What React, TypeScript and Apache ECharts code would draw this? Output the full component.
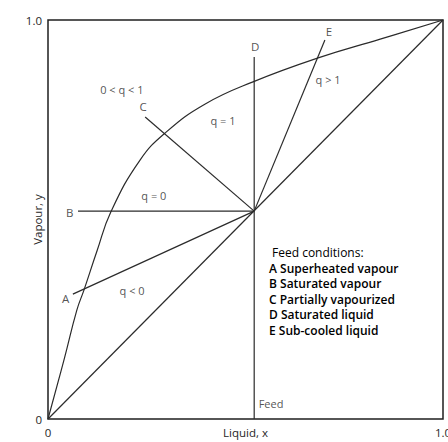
import React, { useEffect, useRef } from "react";
import * as echarts from "echarts";

// Equilibrium curve (x, y)
const curveX = [0, 0.041, 0.073, 0.091, 0.124, 0.159, 0.233, 0.299, 0.397, 0.519, 0.684, 0.841, 1];
const curveY = [0, 0.15, 0.273, 0.323, 0.421, 0.519, 0.649, 0.719, 0.789, 0.845, 0.905, 0.952, 1];

// Feed point on the diagonal
const feed = [0.522, 0.521];

// q-line start points (labels A–E)
const qLineLetters = ["A", "B", "C", "D", "E"];
const qLineStartX = [0.063, 0.076, 0.246, 0.522, 0.701];
const qLineStartY = [0.313, 0.521, 0.757, 0.907, 0.95];

// Region labels
const regionText = ["0<q<1", "q=1", "q=0", "q<0", "q>1", "Feed"];
const regionX = [0.187, 0.443, 0.268, 0.213, 0.709, 0.532];
const regionY = [0.827, 0.749, 0.561, 0.323, 0.85, 0.038];

const feedHeading = "Feed conditions:";
const feedItems = [
  "A Superheated vapour",
  "B Saturated vapour",
  "C Partially vapourized",
  "D Saturated liquid",
  "E Sub-cooled liquid",
];

const xTicks = ["0", "1.0"];
const yTicks = ["0", "1.0"];

const FONT = "'Open Sans', 'Noto Sans', sans-serif";
const LINE = "#2b2b2b";
const TXT = "#262626";

export default function App() {
  const ref = useRef<HTMLDivElement>(null);
  useEffect(() => {
    document.body.style.margin = "0";
    const chart = echarts.init(ref.current!, null, { renderer: "svg" });
    const lineStyle = { color: LINE, width: 1.2 };
    const letterPos: any[] = [
      { position: "left", distance: 3, offset: [0, 4] },
      { position: "left", distance: 4, offset: [0, 1] },
      { position: "top", distance: 4, offset: [-2, 0] },
      { position: "top", distance: 4, offset: [1, 0] },
      { position: "top", distance: 2, offset: [4, 0] },
    ];
    const series: any[] = [
      {
        type: "line",
        data: [[0, 0], [1, 1]],
        symbol: "none",
        lineStyle,
        silent: true,
      },
      {
        type: "line",
        data: curveX.map((x, i) => [x, curveY[i]]),
        symbol: "none",
        smooth: 0.45,
        lineStyle,
        silent: true,
      },
      {
        type: "line",
        data: [[feed[0], 0], [feed[0], feed[1]]],
        symbol: "none",
        lineStyle,
        silent: true,
      },
    ];
    qLineLetters.forEach((l, i) => {
      series.push({
        type: "line",
        data: [[qLineStartX[i], qLineStartY[i]], feed],
        symbol: "none",
        lineStyle,
        silent: true,
      });
    });
    series.push({
      type: "scatter",
      symbolSize: 1,
      itemStyle: { color: "rgba(0,0,0,0)" },
      silent: true,
      data: qLineLetters.map((l, i) => ({
        value: [qLineStartX[i], qLineStartY[i]],
        label: {
          show: true,
          formatter: l,
          color: TXT,
          fontSize: 11.5,
          fontFamily: FONT,
          ...letterPos[i],
        },
      })),
    });
    series.push({
      type: "scatter",
      symbolSize: 1,
      itemStyle: { color: "rgba(0,0,0,0)" },
      silent: true,
      data: regionText.map((t, i) => ({
        value: [regionX[i], regionY[i]],
        label: {
          show: true,
          formatter: i === 5 ? t : t.split("").join(" "),
          position: i === 5 ? "right" : "inside",
          distance: 0,
          color: TXT,
          fontSize: 11,
          fontFamily: FONT,
        },
      })),
    });

    const block =
      "{h|" + feedHeading + "}\n" + feedItems.map((s) => "{i|" + s + "}").join("\n");

    chart.setOption({
      animation: false,
      backgroundColor: "#ffffff",
      grid: {
        left: 48,
        top: 20,
        right: 5,
        bottom: 23,
        outerBoundsMode: "none",
        containLabel: false,
        show: true,
        borderColor: "#1f1f1f",
        borderWidth: 1.5,
        backgroundColor: "transparent",
      },
      xAxis: {
        type: "value",
        min: 0,
        max: 1,
        interval: 1,
        name: "Liquid, x",
        nameLocation: "middle",
        nameGap: 7,
        nameMoveOverlap: false,
        nameTextStyle: { color: TXT, fontSize: 11.5, fontFamily: FONT },
        axisLine: { show: false },
        axisTick: { show: false },
        splitLine: { show: false },
        axisLabel: {
          color: TXT,
          fontSize: 11.5,
          fontFamily: FONT,
          margin: 7,
          formatter: (v: number) => (v === 0 ? xTicks[0] : xTicks[1]),
        },
      },
      yAxis: {
        type: "value",
        min: 0,
        max: 1,
        interval: 1,
        name: "Vapour, y",
        nameLocation: "middle",
        nameRotate: 90,
        nameGap: 5,
        nameMoveOverlap: false,
        nameTextStyle: { color: TXT, fontSize: 11.5, fontFamily: FONT },
        axisLine: { show: false },
        axisTick: { show: false },
        splitLine: { show: false },
        axisLabel: {
          color: TXT,
          fontSize: 11.5,
          fontFamily: FONT,
          margin: 6,
          formatter: (v: number) => (v === 0 ? yTicks[0] : yTicks[1]),
        },
      },
      graphic: [
        {
          type: "text",
          left: 269,
          top: 244,
          silent: true,
          style: {
            text: block,
            fontFamily: FONT,
            fontSize: 12,
            lineHeight: 15.5,
            rich: {
              h: { color: "#3a3a3a", fontSize: 12, fontFamily: FONT, lineHeight: 16.5, padding: [0, 0, 0, 3] },
              i: { color: "#2a2a2a", fontSize: 12, fontFamily: FONT, fontWeight: 600, lineHeight: 15.5 },
            },
          },
        },
      ],
      series,
    });
    return () => chart.dispose();
  }, []);
  return <div ref={ref} style={{ width: 448, height: 442 }} />;
}
